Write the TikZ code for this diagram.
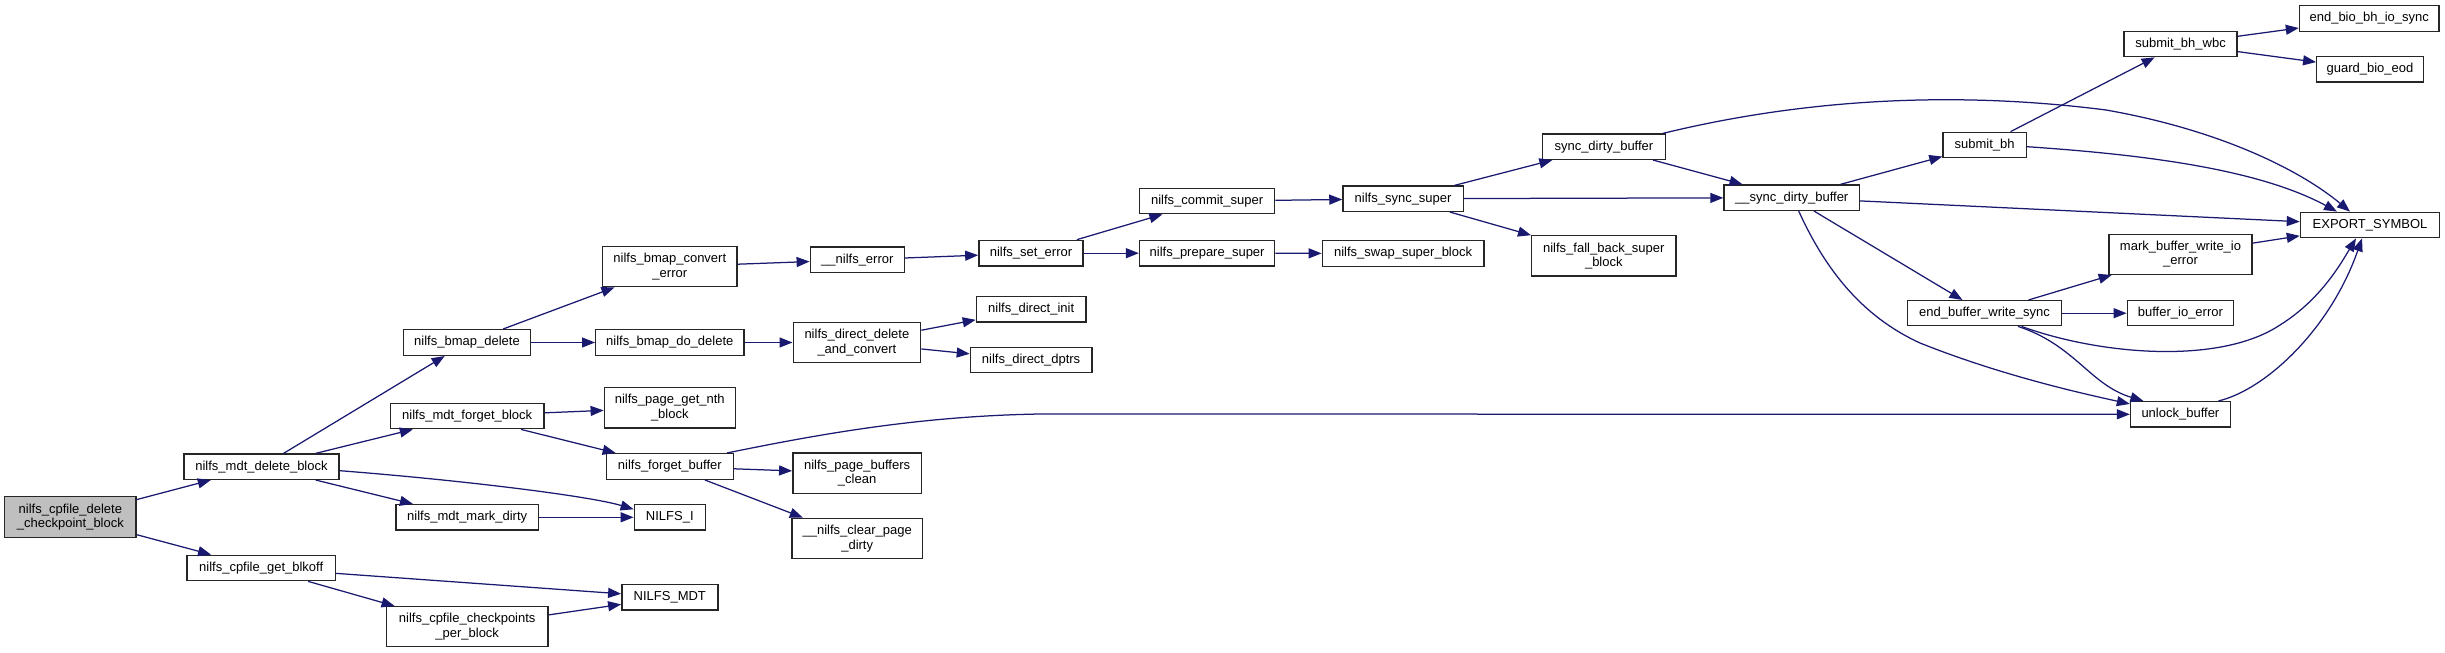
\documentclass[tikz,border=0pt]{standalone}
\usepackage{fontspec}
\setmainfont{Liberation Sans}
\usetikzlibrary{arrows.meta,calc}
\definecolor{edgeblue}{HTML}{191970}
\definecolor{rootgray}{HTML}{BFBFBF}
\begin{document}
\begin{tikzpicture}[x=1pt,y=-1pt,
  fn/.style={draw=black!85, line width=1.4pt, fill=white, inner sep=0pt, align=center,
    font=\fontsize{13}{14.5}\selectfont},
  sz/.style 2 args={minimum width=#1pt, minimum height=#2pt},
  call/.style={draw=edgeblue, line width=1.25pt, -{Triangle[length=13pt,width=10pt]}, fill=none},
]
\useasboundingbox (0,0) rectangle (2445,653);
% column 1
\node[fn, sz={131.3}{40.6}, fill=rootgray] (root) at (70.4,517) {nilfs\_cpfile\_delete\\\_checkpoint\_block};
% column 2
\node[fn, sz={155}{25.3}] (mdtdel) at (261.5,466.7) {nilfs\_mdt\_delete\_block};
\node[fn, sz={148.3}{25.4}] (blkoff) at (261.2,568) {nilfs\_cpfile\_get\_blkoff};
% column 3
\node[fn, sz={127.5}{25.6}] (bmapdel) at (467,342.5) {nilfs\_bmap\_delete};
\node[fn, sz={153.8}{25.4}] (forgetblk) at (467.2,416) {nilfs\_mdt\_forget\_block};
\node[fn, sz={142.7}{25.3}] (markdirty) at (467.2,517.3) {nilfs\_mdt\_mark\_dirty};
\node[fn, sz={161.7}{40}] (cpb) at (467.2,626.7) {nilfs\_cpfile\_checkpoints\\\_per\_block};
% column 4
\node[fn, sz={134.6}{40}] (converr) at (669.8,266.7) {nilfs\_bmap\_convert\\\_error};
\node[fn, sz={148.2}{25.6}] (dodel) at (669.8,342.5) {nilfs\_bmap\_do\_delete};
\node[fn, sz={131}{40.7}] (nth) at (669.8,407.7) {nilfs\_page\_get\_nth\\\_block};
\node[fn, sz={126.8}{25.6}] (fbuf) at (669.8,466.5) {nilfs\_forget\_buffer};
\node[fn, sz={71}{25.3}] (nilfsI) at (669.8,517.3) {NILFS\_I};
\node[fn, sz={96}{25.3}] (mdt) at (669.8,597.3) {NILFS\_MDT};
% column 5
\node[fn, sz={94}{25.7}] (nerr) at (857.3,259.8) {\_\_nilfs\_error};
\node[fn, sz={127.4}{40.4}] (ddc) at (856.9,342.5) {nilfs\_direct\_delete\\\_and\_convert};
\node[fn, sz={128.6}{40.3}] (pbc) at (857.1,473.2) {nilfs\_page\_buffers\\\_clean};
\node[fn, sz={130.7}{40.4}] (cpd) at (857.2,538.5) {\_\_nilfs\_clear\_page\\\_dirty};
% column 6
\node[fn, sz={104.3}{25.7}] (seterr) at (1031,253.2) {nilfs\_set\_error};
\node[fn, sz={109.6}{25.3}] (dinit) at (1031.2,309.3) {nilfs\_direct\_init};
\node[fn, sz={121.4}{25.4}] (dptrs) at (1031.1,360) {nilfs\_direct\_dptrs};
% column 7
\node[fn, sz={134.9}{25}] (commit) at (1207.1,201.2) {nilfs\_commit\_super};
\node[fn, sz={135}{25.7}] (prep) at (1207.1,253.2) {nilfs\_prepare\_super};
% column 8
\node[fn, sz={120.3}{25.3}] (sync) at (1403.1,198.7) {nilfs\_sync\_super};
\node[fn, sz={161.6}{25.6}] (swap) at (1403.1,253.5) {nilfs\_swap\_super\_block};
% column 9
\node[fn, sz={122.9}{25.3}] (sdb) at (1603.9,146.7) {sync\_dirty\_buffer};
\node[fn, sz={144.2}{40.3}] (fallback) at (1603.8,255.9) {nilfs\_fall\_back\_super\\\_block};
% column 10
\node[fn, sz={135.4}{25.3}] (usdb) at (1791.7,197.7) {\_\_sync\_dirty\_buffer};
% column 11
\node[fn, sz={83.2}{25.4}] (submitbh) at (1984.6,145) {submit\_bh};
\node[fn, sz={153.7}{25}] (ebws) at (1984.5,313.2) {end\_buffer\_write\_sync};
% column 12
\node[fn, sz={113.1}{25.4}] (wbc) at (2180.6,44) {submit\_bh\_wbc};
\node[fn, sz={143.2}{40}] (mbwie) at (2180.5,254.3) {mark\_buffer\_write\_io\\\_error};
\node[fn, sz={106.1}{25}] (bioerr) at (2180.4,313.2) {buffer\_io\_error};
\node[fn, sz={99.7}{25.3}] (unlock) at (2180.4,414.3) {unlock\_buffer};
% column 13
\node[fn, sz={139.4}{25.6}] (endbio) at (2369.2,18.5) {end\_bio\_bh\_io\_sync};
\node[fn, sz={106.5}{25.3}] (guard) at (2370,69.3) {guard\_bio\_eod};
\node[fn, sz={139.1}{25.4}] (export) at (2370,225) {EXPORT\_SYMBOL};

% straight calls
\draw[call] (root) -- (mdtdel);
\draw[call] (root) -- (blkoff);
\draw[call] (mdtdel) -- (bmapdel);
\draw[call] (mdtdel) -- (forgetblk);
\draw[call] (mdtdel) -- (markdirty);
\draw[call] (blkoff) -- (mdt);
\draw[call] (blkoff) -- (cpb);
\draw[call] (cpb) -- (mdt);
\draw[call] (bmapdel) -- (converr);
\draw[call] (bmapdel) -- (dodel);
\draw[call] (forgetblk) -- (nth);
\draw[call] (forgetblk) -- (fbuf);
\draw[call] (markdirty) -- (nilfsI);
\draw[call] (converr) -- (nerr);
\draw[call] (dodel) -- (ddc);
\draw[call] (fbuf) -- (pbc);
\draw[call] (fbuf) -- (cpd);
\draw[call] (nerr) -- (seterr);
\draw[call] (ddc) -- (dinit);
\draw[call] (ddc) -- (dptrs);
\draw[call] (seterr) -- (commit);
\draw[call] (seterr) -- (prep);
\draw[call] (commit) -- (sync);
\draw[call] (prep) -- (swap);
\draw[call] (sync) -- (sdb);
\draw[call] (sync) -- (usdb);
\draw[call] (sync) -- (fallback);
\draw[call] (sdb) -- (usdb);
\draw[call] (usdb) -- (submitbh);
\draw[call] (usdb) -- (export);
\draw[call] (usdb) -- (ebws);
\draw[call] (submitbh) -- (wbc);
\draw[call] (wbc) -- (endbio);
\draw[call] (wbc) -- (guard);
\draw[call] (ebws) -- (mbwie);
\draw[call] (ebws) -- (bioerr);
\draw[call] (mbwie) -- (export);

% curved calls
\draw[call] ($(mdtdel.east)+(0,4)$) .. controls (460,480) and (590,496) .. ($(nilfsI.west)+(0,-8)$);
\draw[call] ($(fbuf.north east)+(-7,0)$) .. controls (820,434) and (920,416) .. (1040,414) -- (unlock.west);
\draw[call] ($(sdb.north east)+(-3,0)$) .. controls (1800,100) and (1950,90) .. (2106,110)
   .. controls (2220,130) and (2300,170) .. ($(export.north)+(-20,0)$);
\draw[call] ($(submitbh.east)+(0,1.7)$) .. controls (2150,155) and (2260,170) .. ($(export.north)+(-33,0)$);
\draw[call] ($(usdb.south)+(7,0)$) .. controls (1830,280) and (1870,320) .. (1920,343)
   .. controls (2000,375) and (2080,393) .. ($(unlock.north west)+(0,3)$);
\draw[call] ($(ebws.south)+(33.5,0)$) .. controls (2075,345) and (2090,385) .. ($(unlock.north)+(-37,0)$);
\draw[call] ($(ebws.south)+(37,0)$) .. controls (2100,355) and (2220,365) .. (2280,325)
   .. controls (2320,300) and (2340,265) .. ($(export.south)+(-14,0)$);
\draw[call] ($(unlock.north)+(38,0)$) .. controls (2265,390) and (2330,330) .. ($(export.south)+(-8,0)$);
\end{tikzpicture}
\end{document}
